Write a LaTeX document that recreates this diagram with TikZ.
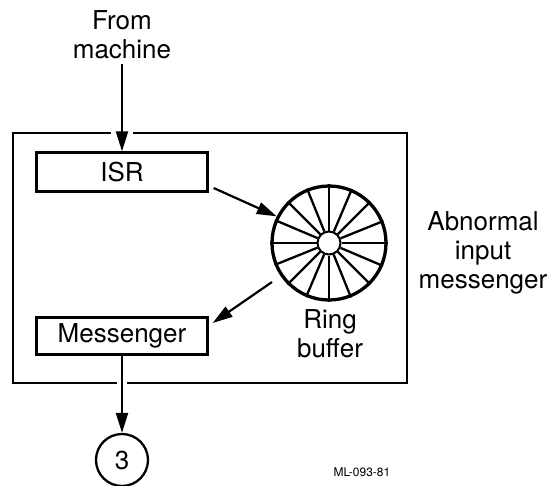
\documentclass[tikz,border=0pt]{standalone}
\usepackage{fontspec}
\setmainfont{TeX Gyre Heros}
\usetikzlibrary{arrows.meta}

\begin{document}
\begin{tikzpicture}[x=1pt,y=-1pt,line width=2.3pt]
\tikzstyle{box}=[draw,rectangle,minimum width=171pt,minimum height=39pt,inner sep=0pt,font=\fontsize{26}{29}\selectfont]
\tikzstyle{txt}=[align=center,inner sep=0pt,font=\fontsize{26}{29}\selectfont]
\tikzstyle{arr}=[-{Triangle[length=20pt,width=12pt]},line width=2.2pt]
\tikzstyle{halo}=[preaction={draw=white,line width=#1,-,shorten >=7pt,shorten <=7pt}]

\useasboundingbox (0,0) rectangle (549,485);

\node[draw,line width=2.8pt,minimum width=394pt,minimum height=250pt,inner sep=0pt] (outer) at (210,258) {};

\node[txt] (from) at (122,35) {From\\machine};
\node[box] (isr) at (122,172) {ISR};
\node[box,minimum height=37pt] (msgr) at (122,336) {Messenger};

\node[draw,circle,line width=3.3pt,minimum size=114pt,inner sep=0pt] (ring) at (329,243) {};
\node[draw,circle,line width=2pt,minimum size=23pt,inner sep=0pt] (hub) at (ring.center) {};
\foreach \a in {0,22.5,...,337.5}
  \draw (hub.\a) -- (ring.\a);
\node[txt] (ringlbl) at (330,334) {Ring\\buffer};

\node[txt] (abn) at (483,253) {Abnormal\\input\\messenger};
\node[draw,circle,minimum size=52pt,inner sep=0pt,font=\fontsize{26}{29}\selectfont] (three) at (122,460) {3};
\node[inner sep=0pt,font=\fontsize{12}{14}\selectfont] (code) at (362,472) {ML-093-81};

\draw [arr,halo=22pt,shorten <=4pt] (from.south) -- (isr.north);
\draw [arr] ([shift={(5,16)}]isr.east) -- (ring.153);
\draw [arr] ([shift={(-57,39)}]ring.center) -- ([shift={(4,-13)}]msgr.east);
\draw [arr,halo=10pt] (msgr.south) -- (three.north);

\end{tikzpicture}
\end{document}
